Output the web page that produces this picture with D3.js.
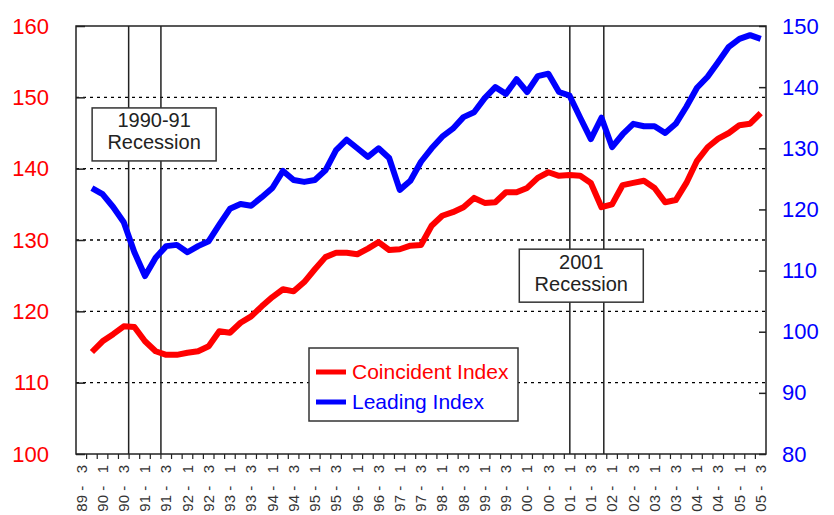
<!DOCTYPE html>
<html><head><meta charset="utf-8">
<script src="https://cdn.jsdelivr.net/npm/d3@7"></script>
<style>
body{margin:0;background:#fff}
svg{display:block}
text{font-family:"Liberation Sans",Arial,Helvetica,sans-serif}
</style>
</head><body>
<svg id="c" width="834" height="515"></svg>
<script>
// ---------- data ----------
const years = d3.range(1989, 2006);
// quarterly categories, 1989 Q3 .. 2005 Q3
const quarters = [];
years.forEach(y => [1,2,3,4].forEach(q => {
  if ((y > 1989 || q >= 3) && (y < 2005 || q <= 3)) quarters.push({y, q});
}));
// series start at 1989 Q4
const seriesQuarters = quarters.slice(1);
const coincident = [114.3,115.8,116.8,117.9,117.8,115.8,114.4,113.9,113.9,114.2,
  114.4,115.1,117.2,117.0,118.4,119.3,120.7,122.0,123.1,122.8,
  124.1,125.9,127.6,128.2,128.2,128.0,128.8,129.7,128.6,128.7,
  129.2,129.3,132.0,133.4,133.9,134.6,135.9,135.2,135.3,136.7,
  136.7,137.3,138.7,139.5,139.0,139.1,139.0,138.0,134.6,135.0,
  137.7,138.0,138.3,137.3,135.3,135.6,138.0,141.1,143.0,144.2,
  145.0,146.1,146.3,147.8];
const leading = [123.5,122.5,120.4,117.9,113.0,109.1,112.1,114.0,114.2,113.0,
  114.0,114.8,117.5,120.1,120.9,120.6,122.0,123.5,126.3,124.8,
  124.5,124.8,126.4,129.7,131.4,130.0,128.6,130.0,128.4,123.2,
  124.7,127.8,130.0,131.9,133.2,135.1,135.9,138.2,140.0,138.9,
  141.3,139.2,141.8,142.2,139.2,138.6,135.0,131.5,135.0,130.2,
  132.3,134.0,133.6,133.6,132.5,134.0,136.8,139.9,141.7,144.1,
  146.6,147.9,148.5,147.9];
const leftTicks = [100,110,120,130,140,150,160];
const rightTicks = [80,90,100,110,120,130,140,150];
const gridValues = [110,120,130,140,150];
const labelQuarters = quarters.filter(d => d.q === 1 || d.q === 3);
const tickLabels = labelQuarters.map(d => String(d.y % 100).padStart(2,"0") + " -   " + d.q);
// recession boundaries (decimal years) and labels
const recessionDates = [[1990.74, 1991.50], [2001.13, 2001.93]];
const recessionLabels = [["1990-91","Recession"], ["2001","Recession"]];
const seriesNames = ["Coincident Index", "Leading Index"];

// ---------- layout ----------
const L = 76, R = 766, T = 26, B = 454;
const colors = ["#ff0000", "#0000ff"];
const boxAnchors = [{x: 1991.34, v: 144.8}, {x: 2001.40, v: 125.0}]; // centers (year, left-axis value)

const svg = d3.select("#c");
const x = d3.scaleLinear().domain([1989.5, 2005.75]).range([L, R]);
const qStart = d => d.y + (d.q - 1) / 4;
const qCenter = d => x(qStart(d) + 0.125);
const yL = d3.scaleLinear().domain([100, 160]).range([B, T]);
const yR = d3.scaleLinear().domain([80, 150]).range([B, T]);

// grid
svg.append("g").selectAll("line").data(gridValues).join("line")
  .attr("x1", L).attr("x2", R)
  .attr("y1", d => yL(d)).attr("y2", d => yL(d))
  .attr("stroke", "#000").attr("stroke-width", 1.4)
  .attr("stroke-dasharray", "3,4");

// recession lines
svg.append("g").selectAll("line").data(recessionDates.flat()).join("line")
  .attr("x1", d => x(d)).attr("x2", d => x(d))
  .attr("y1", T).attr("y2", B)
  .attr("stroke", "#222").attr("stroke-width", 1.5);

// series lines
const lineL = d3.line().x((d, i) => qCenter(seriesQuarters[i])).y(d => yL(d));
const lineR = d3.line().x((d, i) => qCenter(seriesQuarters[i])).y(d => yR(d));
svg.append("path").datum(coincident).attr("d", lineL)
  .attr("fill", "none").attr("stroke", colors[0]).attr("stroke-width", 6)
  .attr("stroke-linejoin", "round");
svg.append("path").datum(leading).attr("d", lineR)
  .attr("fill", "none").attr("stroke", colors[1]).attr("stroke-width", 6)
  .attr("stroke-linejoin", "round");

// recession boxes
recessionLabels.forEach((lab, i) => {
  const cx = x(boxAnchors[i].x), cy = yL(boxAnchors[i].v);
  const g = svg.append("g");
  const w = 124, h = 53;
  g.append("rect").attr("x", cx - w/2).attr("y", cy - h/2).attr("width", w).attr("height", h)
    .attr("fill", "#fff").attr("stroke", "#333").attr("stroke-width", 1.5);
  g.selectAll("text").data(lab).join("text")
    .attr("x", cx).attr("y", (d, j) => cy - 3 + (j - 0.5) * 22 + 7)
    .attr("text-anchor", "middle").attr("font-size", 20).attr("fill", "#222")
    .text(d => d);
});

// legend
const lg = svg.append("g");
lg.append("rect").attr("x", 309).attr("y", 348).attr("width", 209).attr("height", 73)
  .attr("fill", "#fff").attr("stroke", "#333").attr("stroke-width", 1.5);
seriesNames.forEach((n, i) => {
  const yy = 372 + i * 30;
  lg.append("line").attr("x1", 316).attr("x2", 346).attr("y1", yy).attr("y2", yy)
    .attr("stroke", colors[i]).attr("stroke-width", 5);
  lg.append("text").attr("x", 352).attr("y", yy).attr("dy", "0.35em")
    .attr("font-size", 21).attr("fill", colors[i]).text(n);
});

// left axis
const axL = svg.append("g").attr("transform", `translate(${L},0)`)
  .call(d3.axisLeft(yL).tickValues(leftTicks).tickSize(-9).tickPadding(27).tickFormat(d3.format("d")));
axL.select(".domain").remove();
axL.selectAll("line").attr("stroke", "#222").attr("stroke-width", 1.5);
axL.selectAll("text").attr("font-size", 22).attr("fill", colors[0])
  .attr("font-family", '"Liberation Sans",Arial,sans-serif');

// right axis
const axR = svg.append("g").attr("transform", `translate(${R},0)`)
  .call(d3.axisRight(yR).tickValues(rightTicks).tickSize(-7).tickPadding(16).tickFormat(d3.format("d")));
axR.select(".domain").remove();
axR.selectAll("line").attr("stroke", "#222").attr("stroke-width", 1.5);
axR.selectAll("text").attr("font-size", 22).attr("fill", colors[1])
  .attr("font-family", '"Liberation Sans",Arial,sans-serif');

// bottom ticks
svg.append("g").selectAll("line").data(quarters.slice(1)).join("line")
  .attr("x1", d => x(qStart(d))).attr("x2", d => x(qStart(d)))
  .attr("y1", B).attr("y2", B + 5)
  .attr("stroke", "#222").attr("stroke-width", 1.2);

// bottom labels
svg.append("g").selectAll("text").data(labelQuarters).join("text")
  .attr("transform", d => `translate(${qCenter(d)},${B + 11}) rotate(-90)`)
  .attr("text-anchor", "end").attr("dy", "0.35em")
  .attr("font-size", 15).attr("fill", "#333")
  .style("white-space", "pre")
  .text((d, i) => tickLabels[i]);

// frame
svg.append("rect").attr("x", L).attr("y", T).attr("width", R - L).attr("height", B - T)
  .attr("fill", "none").attr("stroke", "#222").attr("stroke-width", 1.5);
</script>
</body></html>
